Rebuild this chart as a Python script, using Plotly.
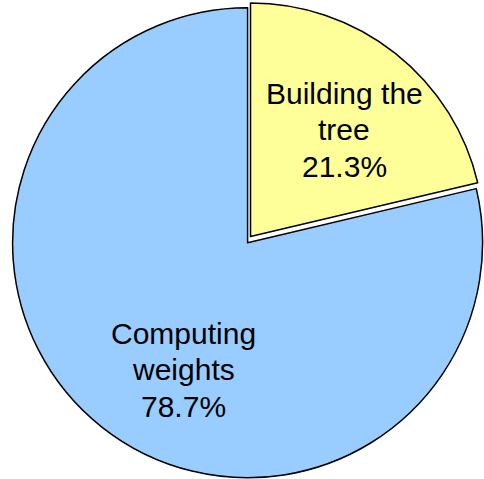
import plotly.graph_objects as go

labels = ["Building the<br>tree", "Computing<br>weights"]
values = [21.3, 78.7]
colors = ["#FFFF99", "#99CCFF"]

total = sum(values)
pct = [f"{v / total * 100:.1f}%" for v in values]
lines = [l.split("<br>") + [p] for l, p in zip(labels, pct)]

W, H = 484, 479
font = dict(family="Liberation Sans, Arial, sans-serif", size=30, color="black")

# label placement (pixel centres of each text block, first line) and line step
label_pos = [(344, 93), (183, 333)]
line_step = 36.5


def trace_for(idx, cx, cy, r):
    fill = [colors[i] if i == idx else "rgba(0,0,0,0)" for i in range(len(values))]
    lw = [1.5 if i == idx else 0 for i in range(len(values))]
    return go.Pie(
        labels=[l.replace("<br>", " ") for l in labels],
        values=values,
        sort=False,
        direction="clockwise",
        rotation=0,
        marker=dict(colors=fill, line=dict(color="black", width=lw)),
        textinfo="none",
        hoverinfo="skip",
        showlegend=False,
        domain=dict(
            x=[(cx - r) / W, (cx + r) / W],
            y=[1 - (cy + r) / H, 1 - (cy - r) / H],
        ),
    )


fig = go.Figure()
fig.add_trace(trace_for(1, 247.6, 242.75, 235))
fig.add_trace(trace_for(0, 250.5, 236.5, 233.5))

annotations = []
for (px, py), ls in zip(label_pos, lines):
    for k, t in enumerate(ls):
        annotations.append(dict(
            text=t, xref="paper", yref="paper",
            x=px / W, y=1 - (py + k * line_step) / H,
            xanchor="center", yanchor="middle",
            showarrow=False, font=font,
        ))

fig.update_layout(
    margin=dict(l=0, r=0, t=0, b=0),
    paper_bgcolor="white",
    plot_bgcolor="white",
    annotations=annotations,
)
fig.write_html("out.html")
